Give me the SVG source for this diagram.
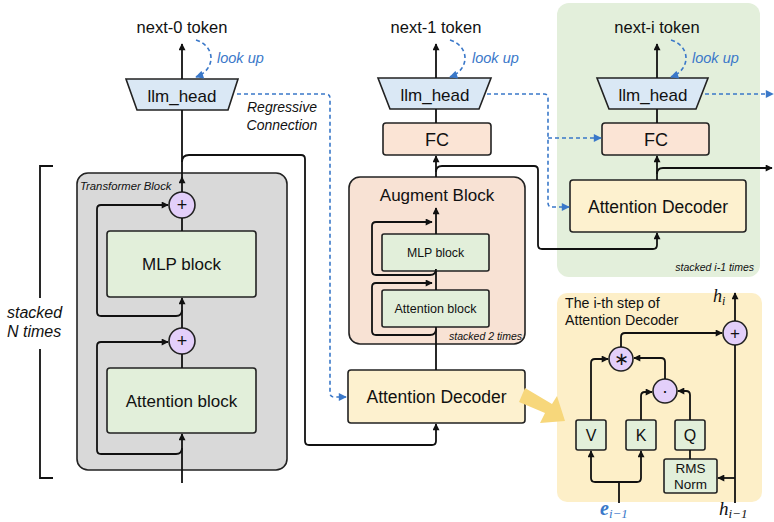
<svg xmlns="http://www.w3.org/2000/svg" width="774" height="522" viewBox="0 0 774 522">
<defs>
<marker id="ah" viewBox="0 0 10 10" refX="9" refY="5" markerWidth="8" markerHeight="7" markerUnits="userSpaceOnUse" orient="auto"><path d="M0,0 L10,5 L0,10 z" fill="#111"/></marker>
<marker id="ahb" viewBox="0 0 10 10" refX="9" refY="5" markerWidth="9" markerHeight="8" markerUnits="userSpaceOnUse" orient="auto"><path d="M0,0 L10,5 L0,10 z" fill="#3a78c9"/></marker>
</defs>
<style>
text{font-family:"Liberation Sans",Arial,sans-serif;fill:#111}
.c{text-anchor:middle}
.it{font-style:italic}
.blue{fill:#3a78c9}
.math{font-family:"Liberation Serif","Times New Roman",serif;font-style:italic}
.box{stroke:#222;stroke-width:1.6}
.g{fill:#e2efda}
.pk{fill:#fbe4d5}
.yl{fill:#fdf1cf}
.lb{fill:#dae8f5}
.op{fill:#e3cffa;stroke:#222;stroke-width:1.6}
.ln{fill:none;stroke:#111;stroke-width:1.8}
.ar{fill:none;stroke:#111;stroke-width:1.8;marker-end:url(#ah)}
.ds{fill:none;stroke:#3a78c9;stroke-width:1.6;stroke-dasharray:4 3}
.da{fill:none;stroke:#3a78c9;stroke-width:1.6;stroke-dasharray:4 3;marker-end:url(#ahb)}
</style>

<!-- background regions -->
<g id="stack-i-region">
<rect x="557" y="3" width="203" height="274" rx="12" fill="#e3efdb"/>
<text x="754" y="271" font-size="10.5" class="it" text-anchor="end">stacked i-1 times</text>
</g>
<g id="step-region">
<rect x="557" y="293" width="205" height="209" rx="10" fill="#fdefc8"/>
<text x="565" y="308" font-size="14.2">The i-th step of</text>
<text x="565" y="325" font-size="14.2">Attention Decoder</text>
</g>

<!-- Transformer column -->
<g id="transformer-block">
<rect x="77" y="173" width="210" height="297" rx="11" fill="#d9d9d9" class="box"/>
<text x="80" y="190" font-size="11.3" class="it">Transformer Block</text>
</g>
<g id="bracket">
<path class="ln" d="M53,166 L40,166 L40,298 M40,349 L40,478 L53,478" stroke-width="1.5"/>
<text x="7" y="318" font-size="16" class="it">stacked</text>
<text x="7" y="337" font-size="16" class="it">N times</text>
</g>
<g id="mlp-block-0">
<rect x="107" y="231" width="149" height="66" rx="3" class="box g"/>
<text x="181.5" y="270" font-size="17" class="c">MLP block</text>
</g>
<g id="attention-block-0">
<rect x="107" y="368" width="149" height="65" rx="3" class="box g"/>
<text x="181.5" y="407" font-size="17" class="c">Attention block</text>
</g>
<g id="add-top-0">
<circle cx="182" cy="205" r="13" class="op"/>
<text x="182" y="211" font-size="18" class="c">+</text>
</g>
<g id="add-bottom-0">
<circle cx="182" cy="341" r="13" class="op"/>
<text x="182" y="347" font-size="18" class="c">+</text>
</g>
<g id="llm-head-0">
<polygon points="126,79 238,79 228,110 137,110" class="box lb"/>
<text x="182" y="102" font-size="17" class="c">llm_head</text>
</g>
<g id="token-0">
<text x="182" y="33" font-size="16.5" class="c">next-0 token</text>
</g>
<g id="lookup-0">
<text x="217" y="63" font-size="14.5" class="it blue">look up</text>
</g>
<text x="282" y="112" font-size="14" class="it c">Regressive</text>
<text x="282" y="130" font-size="14" class="it c">Connection</text>

<!-- Middle column -->
<g id="token-1"><text x="436" y="33" font-size="16.5" class="c">next-1 token</text></g>
<g id="lookup-1"><text x="472" y="63" font-size="14.5" class="it blue">look up</text></g>
<g id="llm-head-1">
<polygon points="378,78 491,78 479,109 390,109" class="box lb"/>
<text x="435" y="101" font-size="17" class="c">llm_head</text>
</g>
<g id="fc-1">
<rect x="383" y="123" width="108" height="32" rx="3" class="box pk"/>
<text x="437" y="145.5" font-size="18" class="c">FC</text>
</g>
<g id="augment-block">
<rect x="349" y="177" width="176" height="167" rx="11" fill="#f8e2d4" class="box"/>
<text x="437" y="201" font-size="17" class="c">Augment Block</text>
<text x="522" y="340" font-size="10.5" class="it" text-anchor="end">stacked 2 times</text>
</g>
<g id="mlp-block-1">
<rect x="382" y="234" width="107" height="37" rx="2" class="box g"/>
<text x="435.5" y="257" font-size="12.3" class="c">MLP block</text>
</g>
<g id="attention-block-1">
<rect x="382" y="290" width="107" height="37" rx="2" class="box g"/>
<text x="435.5" y="313" font-size="12.5" class="c">Attention block</text>
</g>
<g id="attention-decoder-1">
<rect x="348" y="370" width="177" height="53" rx="3" class="box yl"/>
<text x="436.5" y="403" font-size="17.5" class="c">Attention Decoder</text>
</g>

<!-- Right column -->
<g id="token-i"><text x="657" y="33" font-size="16.5" class="c">next-i token</text></g>
<g id="lookup-i"><text x="692" y="63" font-size="14.5" class="it blue">look up</text></g>
<g id="llm-head-i">
<polygon points="597,78 708,78 696,109 609,109" class="box lb"/>
<text x="653" y="101" font-size="17" class="c">llm_head</text>
</g>
<g id="fc-i">
<rect x="602" y="123" width="107" height="32" rx="3" class="box pk"/>
<text x="656" y="145.5" font-size="18" class="c">FC</text>
</g>
<g id="attention-decoder-i">
<rect x="570" y="180" width="176" height="52" rx="3" class="box yl"/>
<text x="658" y="213" font-size="17.5" class="c">Attention Decoder</text>
</g>

<!-- Detail of attention decoder step -->
<g id="add-h"><circle cx="735" cy="333" r="12" class="op"/><text x="735" y="339" font-size="17" class="c">+</text></g>
<g id="mul"><circle cx="621" cy="359" r="12" class="op"/><text x="621" y="365" font-size="18" class="c">∗</text></g>
<g id="dot"><circle cx="665" cy="391" r="12" class="op"/><text x="665" y="397" font-size="18" class="c">·</text></g>
<g id="v-box"><rect x="576" y="420" width="30" height="30" rx="2" class="box g"/><text x="591" y="441" font-size="16" class="c">V</text></g>
<g id="k-box"><rect x="626" y="420" width="30" height="30" rx="2" class="box g"/><text x="641" y="441" font-size="16" class="c">K</text></g>
<g id="q-box"><rect x="675" y="420" width="30" height="30" rx="2" class="box g"/><text x="690" y="441" font-size="16" class="c">Q</text></g>
<g id="rms-norm"><rect x="664" y="459" width="53" height="34" rx="2" class="box g"/>
<text x="690.5" y="473" font-size="13.5" class="c">RMS</text>
<text x="690.5" y="489" font-size="13.5" class="c">Norm</text></g>
<g id="labels-math">
<text x="713" y="302" font-size="18" class="math">h<tspan font-size="12" dy="3">i</tspan></text>
<text x="719" y="515" font-size="19" class="math">h<tspan font-size="13" dy="3">i−1</tspan></text>
<text x="600" y="515" font-size="20" class="math" fill="#3a78c9" style="fill:#3a78c9" font-weight="bold">e<tspan font-size="13" dy="3" font-weight="normal" style="fill:#3a78c9">i−1</tspan></text>
</g>
<g id="big-arrow">
<polygon points="525,388 552,404 557,396 565,421 540,423 545,413 519,402" fill="#f7d77b"/>
</g>

<!-- Connectors -->
<g id="connectors">
<!-- transformer column -->
<path class="ar" d="M182,483 L182,434"/>
<path class="ln" d="M182,368 L182,354"/>
<path class="ar" d="M182,328 L182,298"/>
<path class="ln" d="M182,231 L182,218"/>
<path class="ar" d="M182,192 L182,177"/>
<path class="ln" d="M182,178 L182,110"/>
<path class="ar" d="M182,79 L182,44"/>
<path class="ar" d="M182,448 Q182,454 176,454 L101,454 Q97,454 97,450 L97,346 Q97,342 101,342 L168,342"/>
<path class="ar" d="M182,310 Q182,316 176,316 L101,316 Q97,316 97,312 L97,209 Q97,205 101,205 L168,205"/>
<path class="ar" d="M182,162 Q182,155 189,155 L301,155 Q305,155 305,159 L305,441 Q305,445 309,445 L432,445 Q436,445 436,441 L436,424"/>
<!-- middle column -->
<path class="ln" d="M436,370 L436,344"/>
<path class="ln" d="M436,344 L436,327"/>
<path class="ln" d="M436,290 L436,271"/>
<path class="ar" d="M436,234 L436,208"/>
<path class="ar" d="M436,177 L436,156"/>
<path class="ln" d="M436,123 L436,109"/>
<path class="ar" d="M436,78 L436,44"/>
<path class="ar" d="M436,329 Q436,335 430,335 L376,335 Q372,335 372,331 L372,287 Q372,283 376,283 L432,283"/>
<path class="ar" d="M436,269 Q436,275 430,275 L376,275 Q372,275 372,271 L372,226 Q372,222 376,222 L432,222"/>
<path class="ar" d="M436,172 Q436,166 442,166 L534,166 Q538,166 538,170 L538,245 Q538,249 542,249 L653,249 Q657,249 657,245 L657,233"/>
<!-- right column -->
<path class="ar" d="M657,180 L657,156"/>
<path class="ar" d="M657,174 Q657,168 663,168 L772,168"/>
<path class="ln" d="M657,123 L657,109"/>
<path class="ar" d="M657,78 L657,44"/>
<!-- look up arcs -->
<path class="da" d="M196,40 C216,46 216,70 196,77"/>
<path class="da" d="M450,40 C470,46 470,70 450,77"/>
<path class="da" d="M671,40 C691,46 691,70 671,77"/>
<!-- regressive dashed -->
<path class="da" d="M237,94 L326,94 Q330,94 330,98 L330,393 Q330,397 334,397 L346,397"/>
<path class="ds" d="M487,94 L544,94 Q548,94 548,98 L548,203 Q548,207 552,207"/>
<path class="da" d="M552,207 L569,207"/>
<path class="da" d="M548,138 L601,138"/>
<path class="da" d="M705,94 L773,94"/>
<!-- step detail -->
<path class="ln" d="M735,503 L735,345"/>
<path class="ar" d="M735,321 L735,293"/>
<path class="ar" d="M735,478 L718,478"/>
<path class="ln" d="M690,459 L690,450"/>
<path class="ar" d="M690,420 L690,395 Q690,391 686,391 L678,391"/>
<path class="ar" d="M641,420 L641,396 Q641,392 645,392 L652,392"/>
<path class="ar" d="M591,420 L591,363 Q591,359 595,359 L608,359"/>
<path class="ar" d="M665,379 L665,362 Q665,358 661,358 L634,358"/>
<path class="ar" d="M621,347 L621,337 Q621,333 625,333 L722,333"/>
<path class="ln" d="M619,503 L619,482"/>
<path class="ar" d="M619,482 L595,482 Q591,482 591,478 L591,451"/>
<path class="ar" d="M619,482 L637,482 Q641,482 641,478 L641,451"/>
</g>
</svg>
